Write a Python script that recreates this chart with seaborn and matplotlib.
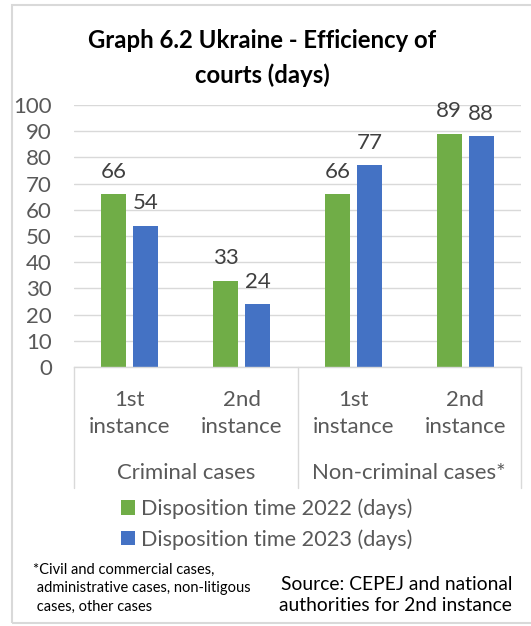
import pandas as pd
import matplotlib
matplotlib.use("Agg")
import matplotlib.pyplot as plt
import seaborn as sns
from matplotlib.lines import Line2D
from matplotlib.patches import Rectangle
import matplotlib.transforms as mtransforms

sns.set_theme(style="white")
plt.rcParams['font.family'] = ['Lato', 'DejaVu Sans']

# Data
groups = ["Criminal cases", "Non-criminal cases*"]
instances = ["1st\ninstance", "2nd\ninstance", "1st\ninstance", "2nd\ninstance"]
keys = ["crim_1", "crim_2", "noncrim_1", "noncrim_2"]
series = ["Disposition time 2022 (days)", "Disposition time 2023 (days)"]
values_2022 = [66, 33, 66, 89]
values_2023 = [54, 24, 77, 88]
colors = ["#70AD47", "#4472C4"]

df = pd.DataFrame({
    "key": keys * 2,
    "series": [series[0]] * 4 + [series[1]] * 4,
    "days": values_2022 + values_2023,
})

text_grey = "#595959"
grid_grey = "#D9D9D9"

fig = plt.figure(figsize=(5.31, 6.26), dpi=100)
ax = fig.add_axes([74 / 531, 259 / 626, 447 / 531, 262 / 626])

sns.barplot(data=df, x="key", y="days", hue="series", order=keys,
            hue_order=series, palette=colors, saturation=1, width=0.574,
            gap=0.22, linewidth=0, ax=ax)

ax.set_ylim(0, 100)
ax.set_xlim(-0.5, 3.5)
ax.set_yticks(range(0, 101, 10))
ax.yaxis.grid(True, color=grid_grey, linewidth=1)
ax.set_axisbelow(True)
for s in ["top", "right", "left"]:
    ax.spines[s].set_visible(False)
ax.spines["bottom"].set_color(grid_grey)
ax.spines["bottom"].set_linewidth(1)
ax.set_xlabel("")
ax.set_ylabel("")
ax.set_xticks(range(4))
ax.set_xticklabels(instances, fontsize=16, color=text_grey, linespacing=1.45)
ax.tick_params(axis="x", length=0, pad=16.5)
ax.tick_params(axis="y", length=0, pad=16, labelsize=16, labelcolor=text_grey)

for cont in ax.containers:
    ax.bar_label(cont, padding=9, fontsize=16, color="#404040")

# category group labels and separators
trans = mtransforms.blended_transform_factory(ax.transData, ax.transAxes)
for i, g in enumerate(groups):
    ax.text(0.5 + 2 * i, -0.4046, g, transform=trans, ha="center", va="center",
            fontsize=15.9, color=text_grey)
for xv in [-0.5, 1.5, 3.5]:
    ax.add_line(Line2D([xv, xv], [0, -0.462], transform=trans, color=grid_grey,
                       linewidth=1, clip_on=False))

# legend
handles, labels = ax.get_legend_handles_labels()
ax.legend(handles, labels, loc="upper left", bbox_to_anchor=(112 / 531, 1 - 490 / 626),
          bbox_transform=fig.transFigure, frameon=False, fontsize=15.6,
          handlelength=0.65, handleheight=0.65, handletextpad=0.3,
          labelspacing=0.45, borderaxespad=0, labelcolor=text_grey)

# title
fig.text(262 / 531, 1 - 40 / 626, "Graph 6.2 Ukraine - Efficiency of", ha="center",
         va="center", fontsize=17.2, fontweight="bold", color="black")
fig.text(262 / 531, 1 - 75 / 626, "courts (days)", ha="center",
         va="center", fontsize=17.2, fontweight="bold", color="black")

# footnote and source
fig.text(33 / 531, 1 - 588 / 626,
         "*Civil and commercial cases,\n administrative cases, non-litigous\n cases, other cases",
         ha="left", va="center", fontsize=10.5, color="black", linespacing=1.4)
fig.text(512 / 531, 1 - 595 / 626,
         "Source: CEPEJ and national\nauthorities for 2nd instance",
         ha="right", va="center", fontsize=13.9, color="black", linespacing=1.25)

# outer frame
fig.patches.append(Rectangle((12 / 531, 3 / 626), 1.2, 1 - 8 / 626,
                             transform=fig.transFigure, fill=False,
                             edgecolor=grid_grey, linewidth=1.5, figure=fig))

fig.savefig("out.png", dpi=100)
